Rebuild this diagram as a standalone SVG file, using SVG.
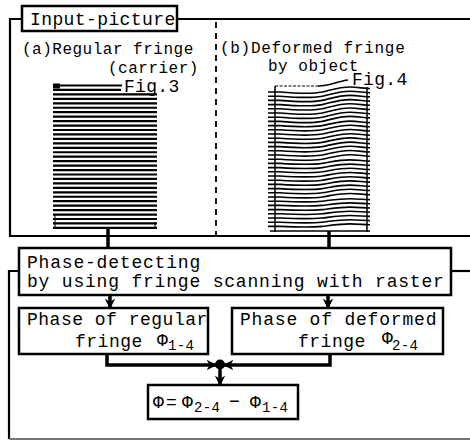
<svg xmlns="http://www.w3.org/2000/svg" xmlns:xlink="http://www.w3.org/1999/xlink" width="470" height="440" viewBox="0 0 470 440">
<style>
  .t { font-family: "Liberation Mono", "DejaVu Sans Mono", monospace; fill: #000; }
  .big { font-size: 18px; letter-spacing: 0.8px; }
  .mid { font-size: 16px; letter-spacing: 0.5px; }
  .sub { font-size: 14px; letter-spacing: 0.3px; }
  .box { fill: #fff; stroke: #000; stroke-width: 2.5; }
  .frame { fill: none; stroke: #000; stroke-width: 2.2; }
  .con { fill: none; stroke: #000; stroke-width: 3.5; }
  .fa { fill: none; stroke: #000; stroke-width: 2.2; }
  .fb { fill: none; stroke: #000; stroke-width: 1.6; }
</style>
<defs>
  <marker id="ah" viewBox="0 0 10 10" refX="9" refY="5" markerWidth="3" markerHeight="3" orient="auto" markerUnits="strokeWidth">
    <path d="M0,0 L10,5 L0,10 L3,5 Z" fill="#000"/>
  </marker>
  <path id="s1" d="M268,0 L280,0 C298,1.5 310,2.3 322,0 C332,-2.3 340,-5 350,-5 C358,-5 364,-3.5 370,-3.5"/>
  <path id="s2" d="M268,0 L280,0 C298,1.35 310,2 322,0 C332,-2 340,-4.5 350,-4.5 C358,-4.5 364,-3 370,-3"/>
  <path id="s3" d="M268,0 L280,0 C298,1.1 310,1.6 322,0 C332,-1.6 340,-3.5 350,-3.5 C358,-3.5 364,-2.3 370,-2.3"/>
  <path id="s4" d="M268,0 L280,0 C298,0.8 310,1.2 322,0 C332,-1.2 340,-2.5 350,-2.5 C358,-2.5 364,-1.6 370,-1.6"/>
</defs>
<rect width="470" height="440" fill="#fff"/>

<!-- frames -->
<g id="frames">
  <path class="frame" d="M22,19 H10 V236 H470"/>
  <path class="frame" d="M177,19 H470"/>
  <line x1="216" y1="22" x2="216" y2="236" stroke="#000" stroke-width="1.8" stroke-dasharray="6,5"/>
  <path class="frame" d="M19,271 H9 V439"/>
  <path d="M9,439 H470" fill="none" stroke="#777" stroke-width="2"/>
  <path class="frame" d="M451,271 H470"/>
</g>

<g id="input-picture">
  <rect class="box" x="22" y="6" width="155" height="25"/>
  <text class="t big" x="30" y="25" style="letter-spacing:0.4px">Input-picture</text>
</g>

<g id="regular-fringe">
  <text class="t mid" x="22" y="54">(a)Regular fringe</text>
  <text class="t mid" x="108" y="73">(carrier)</text>
  <text class="t big" x="124" y="92" style="letter-spacing:0.3px">Fig.3</text>
  <path class="fa" d="M53,85.5 h69 M53,89.95 h68 M53,94.4 h104 M53,98.85 h104 M53,103.3 h104 M53,107.75 h104 M53,112.2 h104 M53,116.65 h104 M53,121.1 h104 M53,125.55 h104 M53,130 h104 M53,134.45 h104 M53,138.9 h104 M53,143.35 h104 M53,147.8 h104 M53,152.25 h104 M53,156.7 h104 M53,161.15 h104 M53,165.6 h104 M53,170.05 h104 M53,174.5 h104 M53,178.95 h104 M53,183.4 h104 M53,187.85 h104 M53,192.3 h104 M53,196.75 h104 M53,201.2 h104 M53,205.65 h104 M53,210.1 h104 M53,214.55 h104 M53,219 h104 M53,223.45 h104 M53,227.9 h104"/>
  <rect x="53" y="83.5" width="7" height="5" fill="#000"/>
  <path d="M55,215 V228 M155,222 V228" stroke="#000" stroke-width="1"/>
</g>

<g id="deformed-fringe">
  <text class="t mid" x="220" y="53" style="letter-spacing:0.7px">(b)Deformed fringe</text>
  <text class="t mid" x="268" y="71">by object</text>
  <text class="t big" x="352" y="85" style="letter-spacing:0.3px">Fig.4</text>
  <line x1="275" y1="86" x2="318" y2="86" stroke="#000" stroke-width="1.2" stroke-dasharray="3,1.5"/>
  <path d="M318,86 C330,86 338,81 348,80" fill="none" stroke="#000" stroke-width="1.6"/>
  <g class="fb">
    <use xlink:href="#s1" y="92"/>
    <use xlink:href="#s1" y="96.2"/>
    <use xlink:href="#s1" y="100.4"/>
    <use xlink:href="#s1" y="104.6"/>
    <use xlink:href="#s1" y="108.8"/>
    <use xlink:href="#s1" y="113"/>
    <use xlink:href="#s1" y="117.2"/>
    <use xlink:href="#s1" y="121.4"/>
    <use xlink:href="#s2" y="125.6"/>
    <use xlink:href="#s2" y="129.8"/>
    <use xlink:href="#s2" y="134"/>
    <use xlink:href="#s2" y="138.2"/>
    <use xlink:href="#s2" y="142.4"/>
    <use xlink:href="#s2" y="146.6"/>
    <use xlink:href="#s2" y="150.8"/>
    <use xlink:href="#s2" y="155"/>
    <use xlink:href="#s2" y="159.2"/>
    <use xlink:href="#s3" y="163.4"/>
    <use xlink:href="#s3" y="167.6"/>
    <use xlink:href="#s3" y="171.8"/>
    <use xlink:href="#s3" y="176"/>
    <use xlink:href="#s3" y="180.2"/>
    <use xlink:href="#s3" y="184.4"/>
    <use xlink:href="#s3" y="188.6"/>
    <use xlink:href="#s3" y="192.8"/>
    <use xlink:href="#s3" y="197"/>
    <use xlink:href="#s4" y="201.2"/>
    <use xlink:href="#s4" y="205.4"/>
    <use xlink:href="#s4" y="209.6"/>
    <use xlink:href="#s4" y="213.8"/>
    <use xlink:href="#s4" y="218"/>
    <use xlink:href="#s4" y="222.2"/>
    <use xlink:href="#s4" y="226.4"/>
  </g>
  <path d="M275,86 V232 M367,87 V232 M270,231 H370" stroke="#000" stroke-width="1.5" fill="none"/>
</g>

<g id="connectors">
  <line class="con" x1="108" y1="228" x2="108" y2="248" stroke-width="4"/>
  <line class="con" x1="329" y1="231" x2="329" y2="248"/>
  <line class="con" x1="110" y1="295" x2="110" y2="308" marker-end="url(#ah)" stroke-width="2.5"/>
  <line class="con" x1="328" y1="295" x2="328" y2="308" marker-end="url(#ah)" stroke-width="2.5"/>
  <path class="con" d="M107,354 V365 H216" marker-end="url(#ah)"/>
  <path class="con" d="M330,354 V365 H224" marker-end="url(#ah)"/>
  <circle cx="220" cy="364.5" r="5" fill="#000"/>
  <line class="con" x1="220" y1="368" x2="220" y2="385" marker-end="url(#ah)" stroke-width="2.5"/>
</g>

<g id="phase-detecting">
  <rect class="box" x="19" y="248" width="432" height="47"/>
  <text class="t big" x="27" y="268">Phase-detecting</text>
  <text class="t big" x="27" y="287">by using fringe scanning with raster</text>
</g>

<g id="phase-regular">
  <rect class="box" x="19" y="308" width="189" height="46"/>
  <text class="t big" x="27" y="325" style="letter-spacing:0.5px">Phase of regular</text>
  <text class="t big" x="75" y="347" style="letter-spacing:0.5px">fringe</text>
  <text class="t big" x="157" y="346">Φ</text>
  <text class="t sub" x="168" y="350">1-4</text>
</g>

<g id="phase-deformed">
  <rect class="box" x="232" y="308" width="211" height="46"/>
  <text class="t big" x="240" y="325">Phase of deformed</text>
  <text class="t big" x="298" y="347" style="letter-spacing:0.5px">fringe</text>
  <text class="t big" x="382" y="344">Φ</text>
  <text class="t sub" x="392" y="350">2-4</text>
</g>

<g id="result">
  <rect class="box" x="148" y="385" width="150" height="34"/>
  <text class="t big" x="153" y="408">Φ</text>
  <text class="t big" x="166" y="408">=</text>
  <text class="t big" x="182" y="408">Φ</text>
  <text class="t sub" x="194" y="412">2-4</text>
  <text class="t big" x="229" y="407">−</text>
  <text class="t big" x="250" y="408">Φ</text>
  <text class="t sub" x="262" y="412">1-4</text>
</g>
</svg>
